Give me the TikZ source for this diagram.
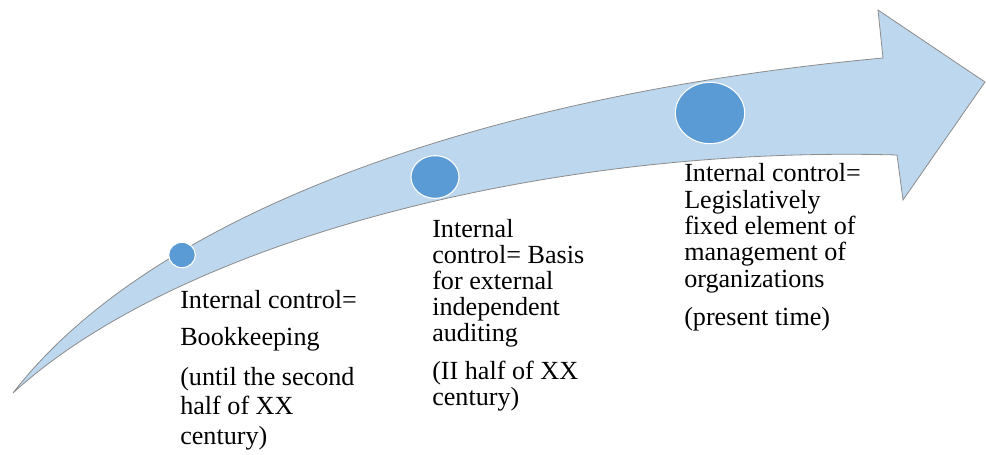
\documentclass[tikz,border=0pt]{standalone}
\usepackage{fontspec}
\setmainfont{Liberation Serif}
\usetikzlibrary{shapes.geometric}
\definecolor{arrowfill}{HTML}{BDD7EE}
\definecolor{arrowline}{HTML}{8C8C8C}
\definecolor{dotfill}{HTML}{5B9BD5}
\tikzset{
  dot/.style={ellipse, fill=dotfill, draw=white, line width=0.8pt, inner sep=0pt},
  lbl/.style={anchor=base west, align=left, inner sep=0pt},
}
\begin{document}
\begin{tikzpicture}[x=0.75pt, y=-0.75pt]
    \useasboundingbox (0,0) rectangle (986,454);
    % curved arrow
    \draw[fill=arrowfill, draw=arrowline, line width=0.6pt, line join=miter]
      (13,393) .. controls (150,215) and (480,95) .. (883,58)
      -- (878,10) -- (985,82) -- (903,200) -- (897,155)
      .. controls (550,145) and (180,240) .. (13,393) -- cycle;
    \node (d1) [dot, minimum width=20, minimum height=19] at (182,255) {};
    \node (d2) [dot, minimum width=36, minimum height=32] at (435,177) {};
    \node (d3) [dot, minimum width=52, minimum height=46] at (710,113) {};
    % labels, placed by the baseline of their last line
    \node (t1) [lbl, font=\fontsize{19.6}{27.75}\selectfont] at (180,345) {Internal control=\\Bookkeeping};
    \node (p1) [lbl, font=\fontsize{19.6}{22}\selectfont] at (180,444) {(until the second\\half of XX\\century)};
    \node (t2) [lbl, font=\fontsize{19.6}{19.5}\selectfont] at (432,341) {Internal\\control= Basis\\for external\\independent\\auditing};
    \node (p2) [lbl, font=\fontsize{19.6}{19}\selectfont] at (432,405) {(II half of XX\\century)};
    \node (t3) [lbl, font=\fontsize{19.6}{19.7}\selectfont] at (684,287) {Internal control=\\Legislatively\\fixed element of\\management of\\organizations};
    \node (p3) [lbl, font=\fontsize{19.6}{19}\selectfont] at (684,325) {(present time)};
\end{tikzpicture}
\end{document}
